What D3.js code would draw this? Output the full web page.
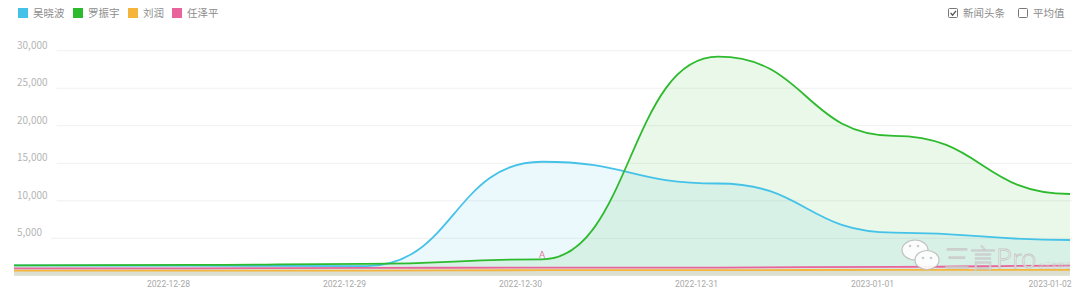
<!DOCTYPE html>
<html><head><meta charset="utf-8">
<script src="https://cdn.jsdelivr.net/npm/d3@7"></script>
<style>
html,body{margin:0;padding:0;background:#fff;}
svg{display:block;font-family:"Noto Sans CJK SC","Noto Sans",sans-serif;}
</style></head>
<body><svg id="c" width="1080" height="301"></svg>
<script>
const dates = ["2022-12-27T03:00","2022-12-28T03:00","2022-12-29T03:00","2022-12-30T03:00","2022-12-31T03:00","2023-01-01T03:00","2023-01-02T03:00"];
const seriesNames = ["吴晓波","罗振宇","刘润","任泽平"];
const wuxiaobo = [1400, 1350, 1300, 15200, 12300, 5750, 4770];
const luozhenyu = [1400, 1450, 1600, 2200, 29200, 18650, 10900];
const liurun = [700, 700, 700, 750, 750, 800, 800];
const renzeping = [1000, 1000, 1050, 1100, 1100, 1200, 1350];
const yTicks = [5000, 10000, 15000, 20000, 25000, 30000];
const xTickLabels = ["2022-12-28","2022-12-29","2022-12-30","2022-12-31","2023-01-01","2023-01-02"];
const colors = ["#45c2e8","#2dba2d","#f5b53a","#e8649a"];
const fills = ["rgba(69,194,232,0.11)","rgba(45,186,45,0.10)","rgba(245,181,58,0.10)","rgba(232,100,154,0.08)"];
const newsMarks = [{date:"2022-12-30T03:00", series:1, label:"A"}];
const rightLegend = [{label:"新闻头条", checked:true},{label:"平均值", checked:false}];

const parse = d3.isoParse;
const svg = d3.select("#c");
const x = d3.scaleTime()
  .domain([parse("2022-12-27T03:00"), parse("2023-01-02T03:00")])
  .range([14, 1070]);
const y = d3.scaleLinear().domain([0, 30000]).range([275.8, 50.7]);

// gridlines
const fmt = d3.format(",");
yTicks.forEach(t => {
  const lbl = fmt(t);
  const w = lbl.length * 5.6;
  svg.append("line").attr("x1", 17 + w + 6).attr("x2", 1072)
    .attr("y1", y(t)).attr("y2", y(t))
    .attr("stroke", "#f0f0f0").attr("stroke-width", 1);
  svg.append("text").attr("x", 17).attr("y", y(t) - 2)
    .attr("font-size", 10).attr("fill", "#b5b5b5").text(lbl);
});

const all = [wuxiaobo, luozhenyu, liurun, renzeping];
const area = d3.area().curve(d3.curveBumpX)
  .x((d,i) => x(parse(dates[i]))).y0(y(0)).y1(d => y(d));
const line = d3.line().curve(d3.curveBumpX)
  .x((d,i) => x(parse(dates[i]))).y(d => y(d));

all.forEach((s, k) => {
  svg.append("path").attr("d", area(s)).attr("fill", fills[k]);
});
[2,3,0,1].forEach(k => {
  svg.append("path").attr("d", line(all[k])).attr("fill", "none")
    .attr("stroke", colors[k]).attr("stroke-width", 1.8);
});

// news marks
newsMarks.forEach(m => {
  const idx = dates.indexOf(m.date);
  const px = x(parse(m.date)), py = y(all[m.series][idx]);
  svg.append("text").attr("x", px).attr("y", py - 1).attr("text-anchor","middle")
    .attr("font-size", 9).attr("fill", "#e07898").attr("font-family","DejaVu Sans").text(m.label);
});

// x axis labels
const xAxis = d3.axisBottom(x)
  .tickValues(xTickLabels.map(d => parse(d + "T00:00")))
  .tickFormat(d3.timeFormat("%Y-%m-%d")).tickSize(0).tickPadding(0);
const gx = svg.append("g").attr("transform", "translate(0,279)").call(xAxis);
gx.select(".domain").remove();
gx.selectAll("text").attr("font-size", 8.5).attr("fill", "#a8a8a8")
  .attr("dy", "0.9em").attr("font-family","Roboto, 'Noto Sans', sans-serif");
gx.selectAll(".tick").filter((d,i) => i === xTickLabels.length - 1)
  .select("text").attr("text-anchor", "end").attr("dx", 23);

// watermark
const wm = svg.append("g").attr("opacity", 0.9);
wm.append("ellipse").attr("cx", 915).attr("cy", 250).attr("rx", 13).attr("ry", 10)
  .attr("fill", "#fff").attr("stroke", "#bdbdbd").attr("stroke-width", 1.2);
wm.append("ellipse").attr("cx", 927).attr("cy", 260).attr("rx", 12).attr("ry", 9.5)
  .attr("fill", "#fff").attr("stroke", "#bdbdbd").attr("stroke-width", 1.2);
[[910,246],[918,246],[923,258],[931,258]].forEach(p =>
  wm.append("circle").attr("cx", p[0]).attr("cy", p[1]).attr("r", 1.3).attr("fill", "#c8c8c8"));
const wmText = wm.append("text").attr("x", 944).attr("y", 268).attr("font-size", 26).attr("font-weight", 300)
  .attr("fill", "#fff").attr("stroke", "#c4c4c4").attr("stroke-width", 0.8)
  .attr("font-family","'Noto Sans CJK SC', sans-serif").text("三言Pro");
const wmEnd = 944 + wmText.node().getComputedTextLength();
wm.append("text").attr("x", Math.min(wmEnd + 2, 1042)).attr("y", 268).attr("font-size", 6.5)
  .attr("fill", "#cfcfcf").text("@三言财经");

// legend left
const legX = [18, 73, 128, 172];
seriesNames.forEach((n, i) => {
  svg.append("rect").attr("x", legX[i]).attr("y", 8).attr("width", 10).attr("height", 10)
    .attr("fill", colors[i]);
  svg.append("text").attr("x", legX[i] + 15).attr("y", 17).attr("font-size", 10.5)
    .attr("fill", "#8c8c8c").text(n);
});

// legend right
const rx = [948, 1018];
rightLegend.forEach((r, i) => {
  svg.append("rect").attr("x", rx[i] + 0.5).attr("y", 8.5).attr("width", 9).attr("height", 9)
    .attr("fill", "#fff").attr("stroke", "#777").attr("stroke-width", 1).attr("rx", 1);
  if (r.checked) {
    svg.append("path").attr("d", `M${rx[i]+2.6},${13} L${rx[i]+4.6},${15.2} L${rx[i]+8},${10.8}`)
      .attr("fill","none").attr("stroke","#555").attr("stroke-width",1.3);
  }
  svg.append("text").attr("x", rx[i] + 15).attr("y", 17).attr("font-size", 10.5)
    .attr("fill", "#8c8c8c").text(r.label);
});
</script></body></html>
